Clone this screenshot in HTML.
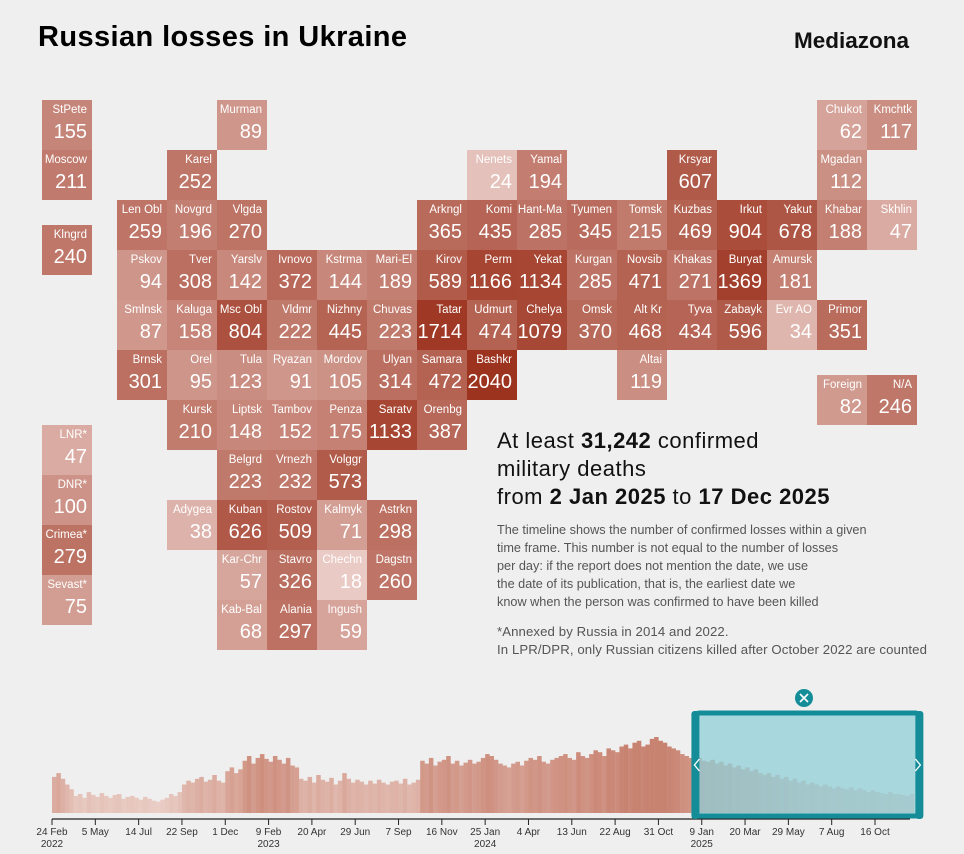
<!DOCTYPE html>
<html><head><meta charset="utf-8"><style>
body{margin:0;background:#efefef;font-family:"Liberation Sans",sans-serif;}
#wrap{position:relative;width:964px;height:854px;overflow:hidden;background:#efefef}
.tile{position:absolute;width:50px;height:50px;color:#fff;box-sizing:border-box}
.tile .n{position:absolute;right:5px;top:4px;font-size:11.5px;white-space:nowrap}
.tile .v{position:absolute;right:5px;bottom:6px;font-size:20px;white-space:nowrap}
.t{position:absolute;white-space:nowrap}
</style></head><body>
<div id="wrap">
<div class="t" style="left:38px;top:21px;font-size:29px;font-weight:bold;color:#000;letter-spacing:0.4px">Russian losses in Ukraine</div>
<div class="t" style="right:55px;top:28px;font-size:22.5px;font-weight:bold;color:#111">Mediazona</div>
<div id="tiles"></div>
<div class="t" style="left:497px;top:427px;font-size:22px;line-height:28px;color:#111;letter-spacing:0.5px">At least <b>31,242</b> confirmed<br>military deaths<br>from <b>2 Jan 2025</b> to <b>17 Dec 2025</b></div>
<div class="t" style="left:497px;top:521px;font-size:12.7px;line-height:18px;color:#555">The timeline shows the number of confirmed losses within a given<br>time frame. This number is not equal to the number of losses<br>per day: if the report does not mention the date, we use<br>the date of its publication, that is, the earliest date we<br>know when the person was confirmed to have been killed</div>
<div class="t" style="left:497px;top:623px;font-size:13.2px;line-height:18px;color:#555;letter-spacing:0.1px">*Annexed by Russia in 2014 and 2022.<br>In LPR/DPR, only Russian citizens killed after October 2022 are counted</div>
<svg id="tl" width="964" height="854" style="position:absolute;left:0;top:0"></svg>
</div>
<script>
const names=["StPete","Murman","Chukot","Kmchtk","Moscow","Karel","Nenets","Yamal","Krsyar","Mgadan","Len Obl","Novgrd","Vlgda","Arkngl","Komi","Hant-Ma","Tyumen","Tomsk","Kuzbas","Irkut","Yakut","Khabar","Skhlin","Klngrd","Pskov","Tver","Yarslv","Ivnovo","Kstrma","Mari-El","Kirov","Perm","Yekat","Kurgan","Novsib","Khakas","Buryat","Amursk","Smlnsk","Kaluga","Msc Obl","Vldmr","Nizhny","Chuvas","Tatar","Udmurt","Chelya","Omsk","Alt Kr","Tyva","Zabayk","Evr AO","Primor","Brnsk","Orel","Tula","Ryazan","Mordov","Ulyan","Samara","Bashkr","Altai","Foreign","N/A","Kursk","Liptsk","Tambov","Penza","Saratv","Orenbg","LNR*","Belgrd","Vrnezh","Volggr","DNR*","Adygea","Kuban","Rostov","Kalmyk","Astrkn","Crimea*","Kar-Chr","Stavro","Chechn","Dagstn","Sevast*","Kab-Bal","Alania","Ingush"];
const values=[155,89,62,117,211,252,24,194,607,112,259,196,270,365,435,285,345,215,469,904,678,188,47,240,94,308,142,372,144,189,589,1166,1134,285,471,271,1369,181,87,158,804,222,445,223,1714,474,1079,370,468,434,596,34,351,301,95,123,91,105,314,472,2040,119,82,246,210,148,152,175,1133,387,47,223,232,573,100,38,626,509,71,298,279,57,326,18,260,75,68,297,59];
const slots=[[-1,0],[2,0],[14,0],[15,0],[-1,1],[1,1],[7,1],[8,1],[11,1],[14,1],[0,2],[1,2],[2,2],[6,2],[7,2],[8,2],[9,2],[10,2],[11,2],[12,2],[13,2],[14,2],[15,2],[-1,2.5],[0,3],[1,3],[2,3],[3,3],[4,3],[5,3],[6,3],[7,3],[8,3],[9,3],[10,3],[11,3],[12,3],[13,3],[0,4],[1,4],[2,4],[3,4],[4,4],[5,4],[6,4],[7,4],[8,4],[9,4],[10,4],[11,4],[12,4],[13,4],[14,4],[0,5],[1,5],[2,5],[3,5],[4,5],[5,5],[6,5],[7,5],[10,5],[14,5.5],[15,5.5],[1,6],[2,6],[3,6],[4,6],[5,6],[6,6],[-1,6.5],[2,7],[3,7],[4,7],[-1,7.5],[1,8],[2,8],[3,8],[4,8],[5,8],[-1,8.5],[2,9],[3,9],[4,9],[5,9],[-1,9.5],[2,10],[3,10],[4,10]];
const lo=[236,208,202],hi=[156,50,30];
function col(v){let t=Math.log(v/15)/Math.log(140);t=Math.max(0,Math.min(1,t));return 'rgb('+lo.map((c,i)=>Math.round(c+(hi[i]-c)*t)).join(',')+')';}
const T=document.getElementById('tiles');
names.forEach((n,i)=>{const s=slots[i];const d=document.createElement('div');
d.className='tile';


d.style.left=(s[0]<0?42:117+s[0]*50)+'px';d.style.top=(100+s[1]*50)+'px';d.style.background=col(values[i]);
d.innerHTML='<span class="n">'+n+'</span><span class="v">'+values[i]+'</span>';T.appendChild(d);});

const weekly=[38,42,36,30,25,
18,20,16,22,19,17,21,18,16,19,20,15,17,18,16,14,17,15,13,12,14,16,20,18,22,
30,34,32,36,38,33,35,40,34,32,
44,48,42,46,
55,60,52,58,62,57,54,60,56,52,58,50,48,
36,34,38,32,40,35,33,37,30,34,42,36,32,35,33,30,34,31,35,32,30,33,34,31,36,30,32,35,
55,52,58,50,54,56,60,52,55,50,53,56,52,54,
58,62,60,56,52,50,48,52,54,50,55,58,56,60,54,52,56,58,60,62,58,56,64,60,58,62,66,64,60,68,66,64,70,72,68,74,76,70,
72,78,80,76,74,70,68,66,
62,60,58,56,58,55,54,56,52,54,50,52,48,50,46,48,44,46,42,40,42,38,40,36,38,34,36,32,34,30,32,30,28,30,28,26,28,26,25,27,24,26,24,22,24,22,21,20,22,20,20,19,18,20];
const tickLabels=["24 Feb","5 May","14 Jul","22 Sep","1 Dec","9 Feb","20 Apr","29 Jun","7 Sep","16 Nov","25 Jan","4 Apr","13 Jun","22 Aug","31 Oct","9 Jan","20 Mar","29 May","7 Aug","16 Oct"];
const tickDays=[0,70,140,210,280,350,420,490,560,630,700,770,840,910,980,1050,1120,1190,1260,1330];
const yearLabels=["2022","2023","2024","2025"];
const yearDays=[0,350,700,1050];
const selStart=1043,selEnd=1392;
const X=d=>52+d*0.6188, H=v=>v*0.95, base=813;
const svg=document.getElementById('tl');const NS='http://www.w3.org/2000/svg';
function mk(t,a,p){const e=document.createElementNS(NS,t);for(const k in a)e.setAttribute(k,a[k]);(p||svg).appendChild(e);return e;}
function bcol(v){const t=Math.max(0,Math.min(1,(v-12)/60));const a=[234,206,198],b=[200,130,112];return 'rgb('+a.map((c,i)=>Math.round(c+(b[i]-c)*t)).join(',')+')';}
const gb=mk('g',{});


weekly.forEach((v,i)=>{const x0=X(i*7),x1=X(i*7+7);const r=mk('rect',{x:x0,y:base-H(v),width:x1-x0+0.2,height:H(v),fill:bcol(v)},gb);

});
const ax=mk('line',{x1:52,x2:910,y1:819,y2:819,stroke:'#222','stroke-width':1.2});


tickDays.forEach((d,i)=>{mk('line',{x1:X(d),x2:X(d),y1:819,y2:825,stroke:'#222'});
const t=mk('text',{x:X(d),y:835,'text-anchor':'middle','font-size':10,fill:'#333','font-family':'Liberation Sans'});t.textContent=tickLabels[i];

});
yearDays.forEach((d,i)=>{const t=mk('text',{x:X(d),y:847,'text-anchor':'middle','font-size':10,fill:'#333','font-family':'Liberation Sans'});t.textContent=yearLabels[i];

});
const sx0=X(selStart)-6,sx1=X(selEnd)+10;
const br=mk('rect',{x:sx0+4,y:713,width:sx1-sx0-8,height:103,fill:'rgba(140,205,215,0.72)',stroke:'#158d99','stroke-width':5,rx:4});


mk('rect',{x:sx0,y:711,width:8,height:108,fill:'#158d99',rx:3});
mk('rect',{x:sx1-8,y:711,width:8,height:108,fill:'#158d99',rx:3});
const hl=mk('path',{d:`M${sx0+8} 759 l-5 6 l5 6`,stroke:'#fff',fill:'none','stroke-width':1.3});


const hr=mk('path',{d:`M${sx1-8} 759 l5 6 l-5 6`,stroke:'#fff',fill:'none','stroke-width':1.3});


const cg=mk('g',{});


mk('circle',{cx:804,cy:698,r:9,fill:'#158d99'},cg);
mk('path',{d:'M800 694 l8 8 M808 694 l-8 8',stroke:'#fff','stroke-width':1.6},cg);
</script>
</body></html>
